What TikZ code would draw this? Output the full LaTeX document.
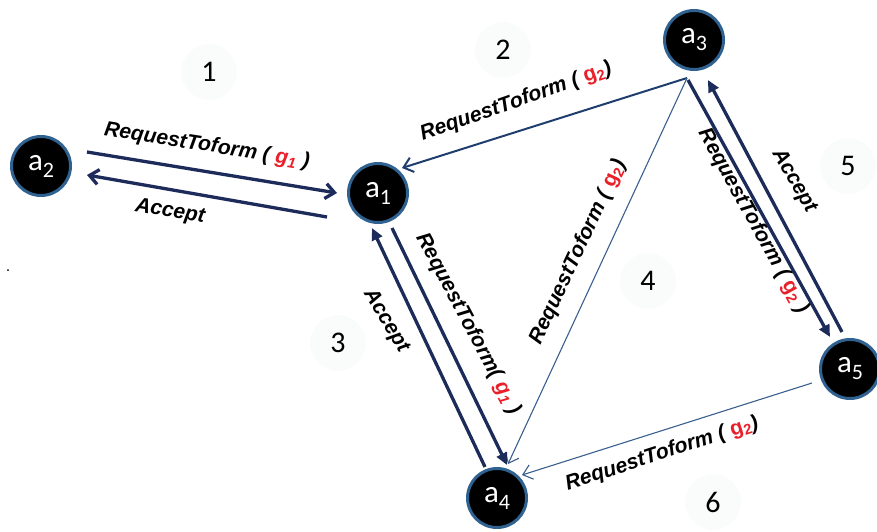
\documentclass[tikz,border=0pt]{standalone}
\usepackage{fontspec}
\usetikzlibrary{arrows.meta,calc}
\newfontfamily\labfont{Liberation Sans}
\newfontfamily\calfont{Carlito}
\definecolor{navy}{HTML}{1C2B5A}
\definecolor{midblue}{HTML}{1F3E6E}
\definecolor{thinblue}{HTML}{3A5F8F}
\definecolor{ringblue}{HTML}{2F6290}
\definecolor{gred}{HTML}{E8202A}
\definecolor{numbg}{HTML}{FAFCFC}
\newcommand\gi[1]{{\color{gred}g\textsubscript{#1}}}
\newcommand\gu[1]{{\color{gred}\upshape g\textsubscript{#1}}}
\newcommand\agentlab[1]{{\calfont\fontsize{31}{31}\selectfont a\raisebox{-7pt}{\fontsize{22}{22}\selectfont #1}}}
\tikzset{
  agent/.style={circle, fill=black, draw=ringblue, line width=3pt, minimum size=59pt, inner sep=0pt, text=white},
  lbl/.style={font=\labfont\bfseries\itshape\fontsize{21}{21}\selectfont, inner sep=1pt},
  numlab/.style={circle, fill=numbg, minimum size=56pt, inner sep=0pt, font=\calfont\fontsize{30}{30}\selectfont},
  thick/.style={draw=navy, line width=3.3pt},
  medium/.style={draw=midblue, line width=2pt},
  thin/.style={draw=thinblue, line width=1.1pt},
  barb/.style={-{Straight Barb[length=9pt,width=15pt]}},
  tri/.style={-{Triangle[length=12pt,width=11pt]}}
}
\begin{document}
\begin{tikzpicture}[x=1pt,y=-1pt]
\useasboundingbox (0,0) rectangle (877,532);
% region numbers
\node[numlab] (n1) at (209,72) {1};
\node[numlab] (n2) at (503,50) {2};
\node[numlab] (n3) at (338,343) {3};
\node[numlab] (n4) at (648,281) {4};
\node[numlab] (n5) at (848,166) {5};
\node[numlab] (n6) at (713,502) {6};
% agents
\node[agent] (a1) at (378,193) {\agentlab{1}};
\node[agent] (a2) at (41,166) {\agentlab{2}};
\node[agent] (a3) at (694,40) {\agentlab{3}};
\node[agent] (a4) at (497,498) {\agentlab{4}};
\node[agent] (a5) at (850,369) {\agentlab{5}};
% connectors
\draw[thick,barb] ($(a2)+(46,-14)$) -- ($(a1)+(-41,0)$);
\draw[thick,barb] ($(a1)+(-51,24)$) -- ($(a2)+(46,9)$);
\draw[medium,barb] ($(a3)+(-7,38)$) -- ($(a1)+(24,-25)$);
\draw[thin,barb] ($(a3)+(-7,38)$) -- ($(a4)+(11,-34)$);
\draw[thick,tri] ($(a3)+(-6,40)$) -- ($(a5)+(-20,-32)$);
\draw[thick,tri] ($(a5)+(-8,-37)$) -- ($(a3)+(14,40)$);
\draw[thick,tri] ($(a1)+(14,35)$) -- ($(a4)+(10,-33)$);
\draw[thick,tri] ($(a4)+(-12,-31)$) -- ($(a1)+(-6,35)$);
\draw[thin,barb] ($(a5)+(-38,14)$) -- ($(a4)+(25,-23)$);
% labels
\node[lbl, rotate=-9] (l1) at (207,146) {RequestToform ( \gi{1} )};
\node[lbl, rotate=-9.5] (l2) at (170,212) {Accept};
\node[lbl, rotate=19.5] (l3) at (516,102) {RequestToform ( \gu{2})};
\node[lbl, rotate=65] (l4) at (578,252) {RequestToform ( \gu{2})};
\node[lbl, rotate=-61] (l5) at (753,221) {RequestToform ( \gu{2} )};
\node[lbl, rotate=-60] (l6) at (794,181) {Accept};
\node[lbl, rotate=-62] (l7) at (468,324) {RequestToform( \gi{1} )};
\node[lbl, rotate=-59] (l8) at (386,321) {Accept};
\node[lbl, rotate=18] (l9) at (662,454) {RequestToform ( \gu{2})};
% stray dot
\fill (8,270) circle (1pt);
\end{tikzpicture}
\end{document}
